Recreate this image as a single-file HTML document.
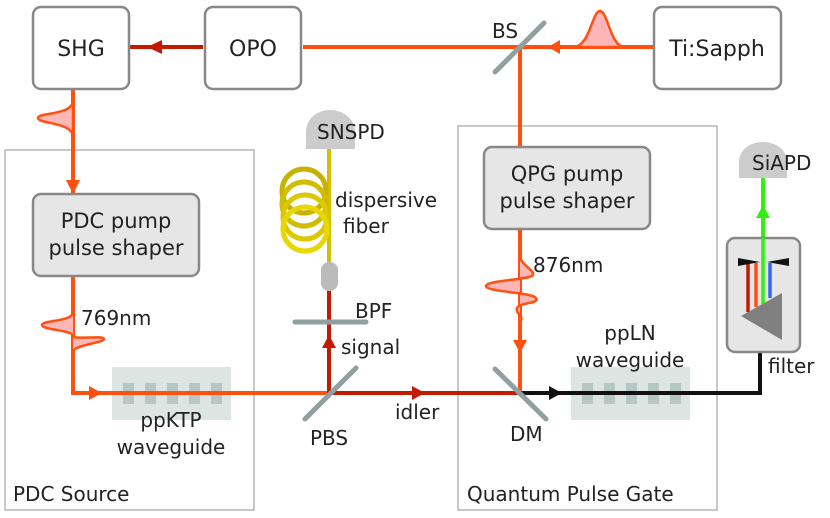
<!DOCTYPE html>
<html><head><meta charset="utf-8"><style>
html,body{margin:0;padding:0;background:#fff;}
svg{display:block;}
text{font-family:"DejaVu Sans","Liberation Sans",sans-serif;fill:#222;}
</style></head><body>
<svg width="830" height="518" viewBox="0 0 830 518" xmlns="http://www.w3.org/2000/svg">
<rect x="5" y="150" width="249" height="360" fill="none" stroke="#aaa" stroke-width="1.3"/>
<rect x="458" y="126" width="259" height="384" fill="none" stroke="#aaa" stroke-width="1.3"/>
<text x="13" y="501" font-size="20">PDC Source</text>
<text x="467" y="501" font-size="20">Quantum Pulse Gate</text>

<rect x="112" y="367" width="119" height="53" fill="#dde5e3"/>
<g fill="#b8c6c3"><rect x="123" y="383" width="11" height="21"/><rect x="145" y="383" width="11" height="21"/><rect x="167" y="383" width="11" height="21"/><rect x="189" y="383" width="11" height="21"/><rect x="211" y="383" width="11" height="21"/></g>
<rect x="571" y="367" width="119" height="53" fill="#dde5e3"/>
<g fill="#b8c6c3"><rect x="582" y="383" width="11" height="21"/><rect x="604" y="383" width="11" height="21"/><rect x="626" y="383" width="11" height="21"/><rect x="648" y="383" width="11" height="21"/><rect x="670" y="383" width="11" height="21"/></g>

<g fill="none" stroke-width="4">
<path d="M303 47 H653" stroke="#ff5010"/>
<path d="M520 47 V147" stroke="#ff5010"/>
<path d="M203 47 H130" stroke="#c41a00"/>
<path d="M73 89 V194" stroke="#ff5010"/>
<path d="M73 276 V393 H330" stroke="#ff5010"/>
<path d="M329 393 H520" stroke="#c41a00"/>
<path d="M329 393 V290" stroke="#c41a00"/>
<path d="M520 229 V393" stroke="#ff5010"/>
<path d="M520 393 H760 V330" stroke="#111"/>
<path d="M763 238 V178" stroke="#33ee11"/>
</g>
<path d="M329 149 V262" stroke="#d4c000" stroke-width="4"/>
<polygon points="147,47 162,40 162,54" fill="#c41a00"/>
<polygon points="548,47 560,40 560,54" fill="#ff5010"/>
<polygon points="73,194 66,180 80,180" fill="#ff5010"/>
<polygon points="102,393 89,386 89,400" fill="#ff5010"/>
<polygon points="329,335 322,348 336,348" fill="#c41a00"/>
<polygon points="425,393 412,386 412,400" fill="#c41a00"/>
<polygon points="520,353 513,340 527,340" fill="#ff5010"/>
<polygon points="562,393 549,386 549,400" fill="#111"/>
<polygon points="763,205 756,218 770,218" fill="#33ee11"/>

<path d="M573 47 C590 47 592 11 600 11 C608 11 610 47 625 47 Z" fill="#ffb6b6" stroke="#ff5010" stroke-width="2.5"/>
<path d="M73 100 C73 116 38 112 38 118 C38 124 73 122 73 137 Z" fill="#ffb6b6" stroke="#ff5010" stroke-width="2.5"/>
<path d="M73 312 C73 322 42 320 42 325 C42 330 73 330 73 336 C73 340 104 335 104 339 C104 343 73 345 73 352" fill="#ffb6b6" stroke="#ff5010" stroke-width="2.5"/>
<path d="M520 255 C520 265 535 270 533 275 C531 280 486 280 486 286 C486 292 531 292 536 298 C540 304 520 302 517 308 C515 314 525 316 520 322" fill="#ffb6b6" stroke="#ff5010" stroke-width="2.5"/>

<g stroke="#8fa0a0" stroke-width="5" stroke-linecap="round">
<line x1="495" y1="72" x2="544" y2="23"/>
<line x1="305" y1="419" x2="356" y2="368"/>
<line x1="495" y1="369" x2="546" y2="419"/>
<line x1="295" y1="322" x2="366" y2="322"/>
</g>

<g fill="none" stroke-width="5">
<circle cx="304" cy="191" r="22" stroke="#c8b200"/>
<circle cx="304" cy="204" r="22" stroke="#d2bc00"/>
<circle cx="305" cy="217" r="22" stroke="#dcc800"/>
<circle cx="305" cy="229" r="22" stroke="#e6d800"/>
</g>
<rect x="321" y="262" width="17" height="29" rx="8" fill="#bbb"/>
<path d="M306 149 V132 C306 118 318 110 330 110 C342 110 355 118 355 132 V149 Z" fill="#ccc"/>
<path d="M739 178 V162 C739 150 750 142 763 142 C776 142 787 150 787 162 V178 Z" fill="#ccc"/>

<g fill="#fff" stroke="#888" stroke-width="2.5">
<rect x="33" y="7" width="96" height="82" rx="8"/>
<rect x="205" y="7" width="96" height="82" rx="8"/>
<rect x="654" y="7" width="127" height="82" rx="8"/>
</g>
<g fill="#e6e6e6" stroke="#888" stroke-width="2.5">
<rect x="33" y="194" width="166" height="82" rx="8"/>
<rect x="484" y="147" width="166" height="82" rx="8"/>
<rect x="727" y="238" width="73" height="114" rx="8"/>
</g>
<g stroke-width="3.5">
<line x1="748" y1="263" x2="748" y2="312" stroke="#c41a00"/>
<line x1="756" y1="263" x2="756" y2="307" stroke="#ff5010"/>
<line x1="763" y1="238" x2="763" y2="304" stroke="#33ee11"/>
<line x1="770" y1="263" x2="770" y2="298" stroke="#3366ff"/>
</g>
<polygon points="738,258 760,262 738,266" fill="#111"/>
<polygon points="789,258 767,262 789,266" fill="#111"/>
<polygon points="741,316 782,293 782,340" fill="#808080"/>

<g font-size="22">
<text x="81" y="56" text-anchor="middle">SHG</text>
<text x="253" y="56" text-anchor="middle">OPO</text>
<text x="717" y="56" text-anchor="middle">Ti:Sapph</text>
</g>
<g font-size="21">
<text x="116" y="228" text-anchor="middle">PDC pump</text>
<text x="116" y="255" text-anchor="middle">pulse shaper</text>
<text x="567" y="181" text-anchor="middle">QPG pump</text>
<text x="567" y="208" text-anchor="middle">pulse shaper</text>
</g>
<g font-size="20">
<text x="492" y="38">BS</text>
<text x="317" y="139">SNSPD</text>
<text x="335" y="207">dispersive</text>
<text x="343" y="233">fiber</text>
<text x="752" y="170">SiAPD</text>
<text x="81" y="325">769nm</text>
<text x="533" y="272">876nm</text>
<text x="355" y="318">BPF</text>
<text x="341" y="354">signal</text>
<text x="395" y="419">idler</text>
<text x="310" y="445">PBS</text>
<text x="510" y="441">DM</text>
<text x="171" y="427" text-anchor="middle">ppKTP</text>
<text x="171" y="454" text-anchor="middle">waveguide</text>
<text x="630" y="340" text-anchor="middle">ppLN</text>
<text x="630" y="367" text-anchor="middle">waveguide</text>
<text x="768" y="373">filter</text>
</g>
</svg>
</body></html>
